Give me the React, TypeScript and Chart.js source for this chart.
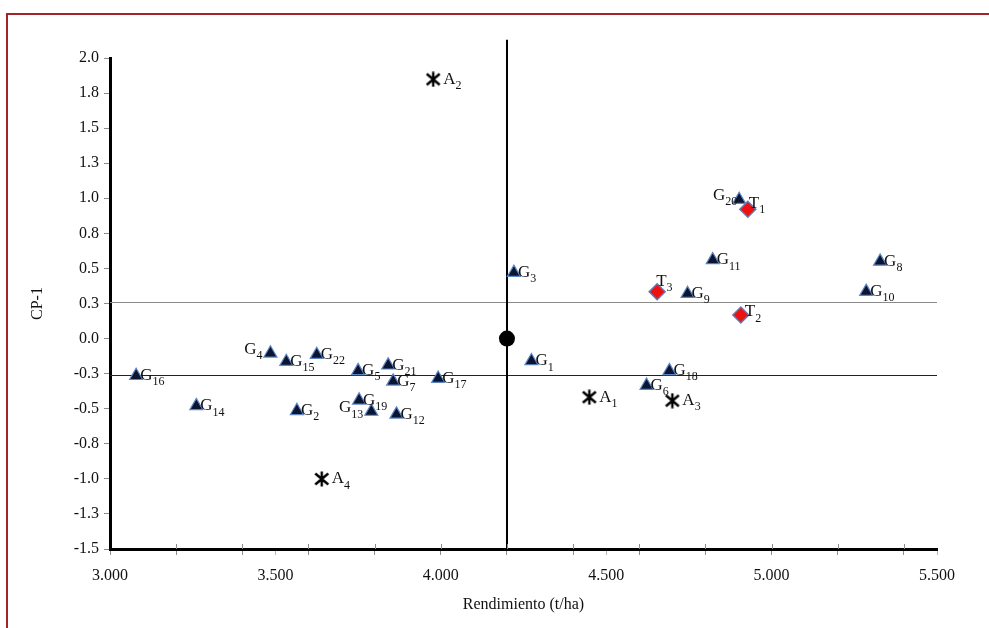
import React, { useEffect, useRef } from 'react';
import { Chart, registerables } from 'chart.js';

Chart.register(...registerables);

// ---- data ----
const gSub = ['1','2','3','4','5','6','7','8','9','10','11','12','13','14','15','16','17','18','19','20','21','22'];
const gX = [4.274, 3.565, 4.221, 3.485, 3.750, 4.622, 3.856, 5.328, 4.746, 5.286, 4.822, 3.866, 3.790, 3.261, 3.533, 3.079, 3.992, 4.691, 3.753, 4.902, 3.841, 3.625];
const gY = [-0.16, -0.515, 0.47, -0.105, -0.23, -0.335, -0.305, 0.55, 0.32, 0.335, 0.56, -0.54, -0.52, -0.48, -0.165, -0.265, -0.285, -0.23, -0.44, 0.99, -0.19, -0.115];
const gSide = ['r','r','r','l','r','r','r','r','r','r','r','r','l','r','r','r','r','r','r','l2','r','r'];

const tSub = ['1','2','3'];
const tX = [4.928, 4.907, 4.654];
const tY = [0.922, 0.168, 0.334];
const tSide = ['t1','t2','t3'];

const aSub = ['1','2','3','4'];
const aX = [4.449, 3.977, 4.700, 3.640];
const aY = [-0.418, 1.848, -0.443, -1.001];
const aSide = ['a','a','a','a'];

const centerX = [4.2];
const centerY = [0];

const vLineX = 4.2;
const vLineTop = 2.13;
const hLineY = [0.26, -0.26];

const xMin = 3.0, xMax = 5.5, xStep = 0.1;
const yMin = -1.5, yMax = 2.0, yStep = 0.25;

const xTitle = 'Rendimiento (t/ha)';
const yTitle = 'CP-1';

// ---- styles ----
const SERIF = '"Liberation Serif", "Times New Roman", serif';
const hLineColors = ['#8a8a8a', '#222222'];

const placements: Record<string, { dx: number; dy: number; align: 'left' | 'right' }> = {
  r: { dx: 4, dy: 0, align: 'left' },
  l: { dx: -8, dy: -3.5, align: 'right' },
  l2: { dx: -2, dy: -4.5, align: 'right' },
  a: { dx: 10, dy: 0, align: 'left' },
  t1: { dx: 1, dy: -6, align: 'left' },
  t2: { dx: 4, dy: -3, align: 'left' },
  t3: { dx: -1, dy: -10, align: 'left' },
};

const isMult = (v: number, m: number) => Math.abs(v / m - Math.round(v / m)) < 1e-6;

function makeAsterisk(): HTMLCanvasElement {
  const c = document.createElement('canvas');
  c.width = 16;
  c.height = 16;
  const g = c.getContext('2d')!;
  g.strokeStyle = '#000';
  g.lineWidth = 2.4;
  g.lineCap = 'butt';
  g.beginPath();
  g.moveTo(8, 0.5); g.lineTo(8, 15.5);
  g.moveTo(1.5, 2.5); g.lineTo(14.5, 13.5);
  g.moveTo(14.5, 2.5); g.lineTo(1.5, 13.5);
  g.stroke();
  return c;
}

const framePlugin = {
  id: 'frame',
  beforeDraw(chart: any) {
    const { ctx, width, height } = chart;
    ctx.save();
    ctx.fillStyle = '#ffffff';
    ctx.fillRect(0, 0, width, height);
    ctx.strokeStyle = '#a3232a';
    ctx.lineWidth = 2;
    ctx.beginPath();
    ctx.moveTo(7, height);
    ctx.lineTo(7, 14);
    ctx.lineTo(width, 14);
    ctx.stroke();
    ctx.restore();
  },
};

const refLinesPlugin = {
  id: 'refLines',
  beforeDatasetsDraw(chart: any) {
    const { ctx, scales } = chart;
    const x = scales.x, y = scales.y;
    ctx.save();
    hLineY.forEach((v, i) => {
      const py = Math.round(y.getPixelForValue(v)) + 0.5;
      ctx.strokeStyle = hLineColors[i];
      ctx.lineWidth = 1.2;
      ctx.beginPath();
      ctx.moveTo(x.getPixelForValue(xMin), py);
      ctx.lineTo(x.getPixelForValue(xMax), py);
      ctx.stroke();
    });
    const px = Math.round(x.getPixelForValue(vLineX));
    ctx.strokeStyle = '#000';
    ctx.lineWidth = 2;
    ctx.beginPath();
    ctx.moveTo(px, y.getPixelForValue(yMin));
    ctx.lineTo(px, y.getPixelForValue(vLineTop));
    ctx.stroke();
    ctx.restore();
  },
  afterDraw(chart: any) {
    const { ctx, scales } = chart;
    const x = scales.x;
    ctx.save();
    ctx.strokeStyle = '#8c8c8c';
    ctx.lineWidth = 1;
    x.ticks.forEach((t: any) => {
      if (isMult(t.value, 0.2) && t.value > xMin + 1e-6) {
        const px = Math.round(x.getPixelForValue(t.value)) + 0.5;
        ctx.beginPath();
        ctx.moveTo(px, x.top - 5);
        ctx.lineTo(px, x.top);
        ctx.stroke();
      }
    });
    ctx.restore();
  },
};

const labelPlugin = {
  id: 'pointLabels',
  afterDatasetsDraw(chart: any) {
    const { ctx } = chart;
    ctx.save();
    chart.data.datasets.forEach((ds: any, di: number) => {
      if (!ds.labelSubs) return;
      const meta = chart.getDatasetMeta(di);
      meta.data.forEach((el: any, i: number) => {
        const p = placements[ds.labelSides[i]];
        const main = ds.labelPrefix;
        const sub = ds.labelSubs[i];
        ctx.font = '17px ' + SERIF;
        const wMain = ctx.measureText(main).width;
        ctx.font = '12px ' + SERIF;
        const wSub = ctx.measureText(sub).width;
        let sx = el.x + p.dx;
        if (p.align === 'right') sx = el.x + p.dx - wMain - wSub;
        const sy = el.y + p.dy;
        ctx.fillStyle = '#111';
        ctx.textAlign = 'left';
        ctx.textBaseline = 'middle';
        ctx.font = '17px ' + SERIF;
        ctx.fillText(main, sx, sy);
        ctx.font = '12px ' + SERIF;
        ctx.fillText(sub, sx + wMain, sy + 6.5);
      });
    });
    ctx.restore();
  },
};

export default function App() {
  const ref = useRef<HTMLCanvasElement | null>(null);

  useEffect(() => {
    if (!ref.current) return;
    const asterisk = makeAsterisk();
    const chart = new Chart(ref.current, {
      type: 'scatter',
      data: {
        datasets: [
          {
            data: centerX.map((v, i) => ({ x: v, y: centerY[i] })),
            pointStyle: 'circle',
            pointRadius: 8,
            backgroundColor: '#000',
            borderColor: '#000',
            borderWidth: 0,
          },
          {
            data: aX.map((v, i) => ({ x: v, y: aY[i] })),
            pointStyle: asterisk,
            pointRadius: 8,
            labelPrefix: 'A',
            labelSubs: aSub,
            labelSides: aSide,
          } as any,
          {
            data: gX.map((v, i) => ({ x: v, y: gY[i] })),
            pointStyle: 'triangle',
            pointRadius: 7.5,
            backgroundColor: '#0b1430',
            borderColor: '#5b86c4',
            borderWidth: 1.2,
            labelPrefix: 'G',
            labelSubs: gSub,
            labelSides: gSide,
          } as any,
          {
            data: tX.map((v, i) => ({ x: v, y: tY[i] })),
            pointStyle: 'rectRot',
            pointRadius: 8,
            backgroundColor: '#ee1111',
            borderColor: '#6a78b0',
            borderWidth: 1.5,
            labelPrefix: 'T',
            labelSubs: tSub,
            labelSides: tSide,
          } as any,
        ],
      },
      options: {
        responsive: false,
        animation: false,
        layout: { padding: { left: 0, right: 52, top: 58, bottom: 0 } },
        plugins: {
          legend: { display: false },
          tooltip: { enabled: false },
        },
        scales: {
          x: {
            type: 'linear',
            min: xMin,
            max: xMax,
            afterFit: (s: any) => { s.height = 79; },
            ticks: {
              stepSize: xStep,
              autoSkip: false,
              maxRotation: 0,
              padding: 11,
              color: '#111',
              font: { family: SERIF, size: 16 },
              callback: (v: any) => (isMult(Number(v), 0.5) ? Number(v).toFixed(3) : ''),
            },
            grid: {
              drawOnChartArea: false,
              drawTicks: true,
              tickLength: 6,
              color: (c: any) => {
                const v = c.tick ? c.tick.value : 0;
                if (isMult(v, 0.2)) return '#8c8c8c';
                if (isMult(v, 0.5)) return '#b5b5b5';
                return 'rgba(0,0,0,0)';
              },
            },
            border: { display: true, color: '#000', width: 3 },
            title: {
              display: true,
              text: xTitle,
              color: '#111',
              font: { family: SERIF, size: 16 },
              padding: { top: 0, bottom: 14 },
            },
          },
          y: {
            type: 'linear',
            min: yMin,
            max: yMax,
            afterFit: (s: any) => { s.width = 110; },
            ticks: {
              stepSize: yStep,
              autoSkip: false,
              padding: 5,
              color: '#111',
              font: { family: SERIF, size: 16 },
              callback: (v: any) => Number(v).toFixed(1),
            },
            grid: {
              drawOnChartArea: false,
              drawTicks: true,
              tickLength: 6,
              color: '#8c8c8c',
            },
            border: { display: true, color: '#000', width: 3 },
            title: {
              display: true,
              text: yTitle,
              color: '#111',
              font: { family: SERIF, size: 16 },
              padding: { top: 28, bottom: 0 },
            },
          },
        },
      },
      plugins: [framePlugin, refLinesPlugin, labelPlugin],
    } as any);
    return () => chart.destroy();
  }, []);

  return (
    <div style={{ position: 'fixed', left: 0, top: 0, width: 989, height: 628, background: '#fff' }}>
      <canvas ref={ref} width={989} height={628} style={{ display: 'block' }} />
    </div>
  );
}
